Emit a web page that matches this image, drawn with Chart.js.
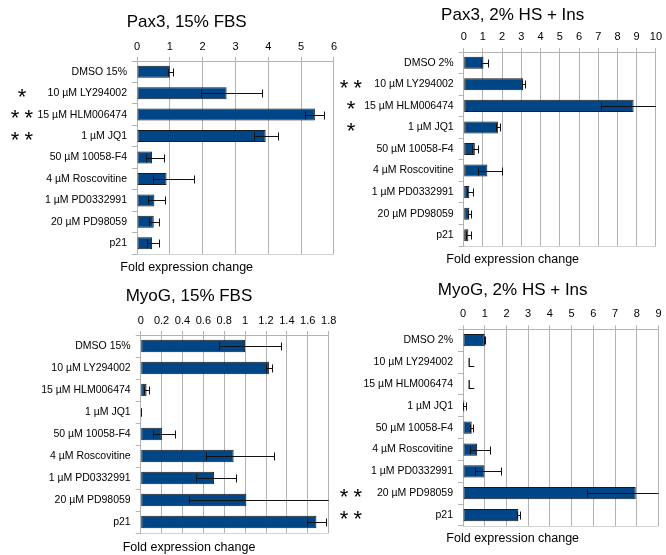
<!DOCTYPE html>
<html>
<head>
<meta charset="utf-8">
<script src="https://cdn.jsdelivr.net/npm/chart.js@4.4.1/dist/chart.umd.min.js"></script>
<style>
body{margin:0;background:#fff;width:666px;height:555px;overflow:hidden;position:relative}
canvas{position:absolute}
</style>
</head>
<body>
<canvas id="pax3Fbs" width="340" height="280" style="left:0;top:0"></canvas>
<canvas id="pax3Hs" width="326" height="280" style="left:340px;top:0"></canvas>
<canvas id="myogFbs" width="340" height="275" style="left:0;top:280px"></canvas>
<canvas id="myogHs" width="326" height="275" style="left:340px;top:280px"></canvas>
<script>

// categories
const labelsFbs=["DMSO 15%","10 µM LY294002","15 µM HLM006474","1 µM JQ1","50 µM 10058-F4","4 µM Roscovitine","1 µM PD0332991","20 µM PD98059","p21"]
const labelsHs=["DMSO 2%","10 µM LY294002","15 µM HLM006474","1 µM JQ1","50 µM 10058-F4","4 µM Roscovitine","1 µM PD0332991","20 µM PD98059","p21"]

// Pax3, 15% FBS
const pax3FbsMean=[1.0,2.73,5.42,3.92,0.46,0.90,0.53,0.51,0.46]
const pax3FbsLow=[0.94,1.94,5.12,3.57,0.27,0.48,0.33,0.36,0.31]
const pax3FbsHigh=[1.10,3.80,5.71,4.30,0.83,1.74,0.86,0.68,0.68]
const pax3FbsStars=["","*","**","**","","","","",""]
const pax3FbsTicks=[0,1,2,3,4,5,6]

// Pax3, 2% HS + Ins
const pax3HsMean=[1.03,3.10,8.84,1.78,0.58,1.23,0.29,0.29,0.24]
const pax3HsLow=[0.92,3.03,7.14,1.66,0.44,0.77,0.17,0.20,0.14]
const pax3HsHigh=[1.25,3.18,10.54,1.88,0.75,1.97,0.50,0.36,0.38]
const pax3HsStars=["","**","*","*","","","","",""]
const pax3HsTicks=[0,1,2,3,4,5,6,7,8,9,10]

// MyoG, 15% FBS
const myogFbsMean=[1.0,1.228,0.056,0.004,0.203,0.89,0.703,1.012,1.683]
const myogFbsLow=[0.746,1.196,0.031,0.002,0.118,0.621,0.534,0.462,1.596]
const myogFbsHigh=[1.346,1.259,0.081,0.006,0.331,1.275,0.915,1.90,1.771]
const myogFbsStars=["","","","","","","","",""]
const myogFbsTicks=[0,0.2,0.4,0.6,0.8,1,1.2,1.4,1.6,1.8]

// MyoG, 2% HS + Ins
const myogHsMean=[1.0,null,null,0.06,0.40,0.65,0.99,7.95,2.55]
const myogHsLow=[0.97,null,null,0.0,0.32,0.33,0.55,5.70,2.47]
const myogHsHigh=[1.03,null,null,0.15,0.47,1.22,1.74,10.2,2.64]
const myogHsNotes=["","L","L","","","","","",""]
const myogHsStars=["","","","","","","","**","**"]
const myogHsTicks=[0,1,2,3,4,5,6,7,8,9]

const FONT="'Liberation Sans', Arial, sans-serif"
const GRID="#b3b3b3"

const extras={
id:"extras",
beforeDatasetsDraw(chart)
{
const ctx=chart.ctx
const a=chart.chartArea
ctx.save()
ctx.strokeStyle="#d4d4d4"
ctx.lineWidth=1
ctx.beginPath()
ctx.moveTo(a.left,Math.round(a.bottom)+0.5)
ctx.lineTo(a.right,Math.round(a.bottom)+0.5)
ctx.stroke()
ctx.restore()
},
afterDatasetsDraw(chart,args,opts)
{
const ctx=chart.ctx
const a=chart.chartArea
const xs=chart.scales.x
const ys=chart.scales.y

ctx.save()
ctx.beginPath()
ctx.rect(a.left-1,a.top,a.right-a.left+1,a.bottom-a.top)
ctx.clip()
ctx.strokeStyle="#111"
ctx.lineWidth=1
for(let i=0;i<opts.low.length;i++)
{
if(opts.low[i]===null) continue
let y=Math.round(ys.getPixelForValue(i))+0.5
let x1=Math.round(xs.getPixelForValue(opts.low[i]))+0.5
let x2=Math.round(xs.getPixelForValue(opts.high[i]))+0.5
ctx.beginPath()
ctx.moveTo(x1,y)
ctx.lineTo(x2,y)
ctx.moveTo(x1,y-4)
ctx.lineTo(x1,y+4)
ctx.moveTo(x2,y-4)
ctx.lineTo(x2,y+4)
ctx.stroke()
}
ctx.restore()

ctx.save()
ctx.fillStyle="#000"
ctx.textAlign="center"
ctx.textBaseline="middle"
ctx.font="13px "+FONT
const notes=opts.notes||[]
for(let i=0;i<notes.length;i++)
{
if(!notes[i]) continue
ctx.fillText(notes[i],xs.getPixelForValue(0)+8,ys.getPixelForValue(i)+1)
}
ctx.font="22px "+FONT
ctx.textBaseline="alphabetic"
const stars=opts.stars||[]
for(let i=0;i<stars.length;i++)
{
let n=stars[i].length
for(let k=0;k<n;k++)
{
let x=opts.starX+(k-(n-1)/2)*13.7
ctx.fillText("*",x,ys.getPixelForValue(i)+10.5)
}
}
ctx.restore()
}
}

function makePanel(id,p)
{
return new Chart(document.getElementById(id),
{
type:"bar",
data:
{
labels:p.labels,
datasets:[
{
data:p.mean,
backgroundColor:"#004586",
borderColor:"#1a1a1a",
borderWidth:1,
borderSkipped:false,
barPercentage:0.56,
categoryPercentage:1
}
]
},
plugins:[extras],
options:
{
indexAxis:"y",
responsive:false,
animation:false,
devicePixelRatio:1,
layout:{padding:{left:p.padL,right:p.padR,top:0,bottom:p.padB}},
plugins:
{
legend:{display:false},
tooltip:{enabled:false},
title:
{
display:true,
text:p.title,
color:"#000",
font:{family:FONT,size:17,weight:"normal"},
padding:{top:p.titleTop,bottom:p.titleBottom}
},
subtitle:
{
display:true,
position:"bottom",
text:"Fold expression change",
color:"#000",
font:{family:FONT,size:12.5},
padding:{top:p.subTop,bottom:p.subBottom}
},
extras:{low:p.low,high:p.high,stars:p.stars,notes:p.notes,starX:p.starX}
},
scales:
{
x:
{
position:"top",
min:p.ticks[0],
max:p.ticks[p.ticks.length-1],
afterBuildTicks:function(s){s.ticks=p.ticks.map(v=>({value:v}))},
afterFit:function(s){s.height=24},
grid:{color:GRID,tickLength:4,tickColor:GRID},
border:{color:GRID},
ticks:
{
color:"#000",
font:{family:FONT,size:11},
padding:p.tickPad,
maxRotation:0,
autoSkip:false,
callback:function(v){return String(Math.round(v*10)/10)}
}
},
y:
{
afterFit:function(s)
{
s.width=p.yWidth
// long labels run into the padding, so do not clip them to the axis box
s._computeLabelArea=function(){}
},
grid:{drawOnChartArea:false,tickLength:5,color:GRID},
border:{color:GRID},
ticks:{color:"#000",font:{family:FONT,size:10.5},padding:5}
}
}
}
})
}

makePanel("pax3Fbs",
{
title:"Pax3, 15% FBS",labels:labelsFbs,mean:pax3FbsMean,low:pax3FbsLow,high:pax3FbsHigh,
stars:pax3FbsStars,ticks:pax3FbsTicks,starX:22,
padL:39.4,padR:6,padB:0,yWidth:97.6,
titleTop:11.8,titleBottom:4.8,tickPad:3,subTop:6.5,subBottom:4.5
})

makePanel("pax3Hs",
{
title:"Pax3, 2% HS + Ins",labels:labelsHs,mean:pax3HsMean,low:pax3HsLow,high:pax3HsHigh,
stars:pax3HsStars,ticks:pax3HsTicks,starX:11,
padL:27.1,padR:7.7,padB:0,yWidth:96.6,
titleTop:4.8,titleBottom:2.8,tickPad:4,subTop:5.8,subBottom:13.2
})

makePanel("myogFbs",
{
title:"MyoG, 15% FBS",labels:labelsFbs,mean:myogFbsMean,low:myogFbsLow,high:myogFbsHigh,
stars:myogFbsStars,ticks:myogFbsTicks,starX:22,
padL:45.3,padR:7.3,padB:0,yWidth:95.4,
titleTop:6.5,titleBottom:4.1,tickPad:3.7,subTop:7,subBottom:0
})

makePanel("myogHs",
{
title:"MyoG, 2% HS + Ins",labels:labelsHs,mean:myogHsMean,low:myogHsLow,high:myogHsHigh,
stars:myogHsStars,notes:myogHsNotes,ticks:myogHsTicks,starX:11,
padL:25.7,padR:6.3,padB:0,yWidth:97.3,
titleTop:0.5,titleBottom:4.4,tickPad:4.4,subTop:5.2,subBottom:8.8
})

</script>
</body>
</html>
